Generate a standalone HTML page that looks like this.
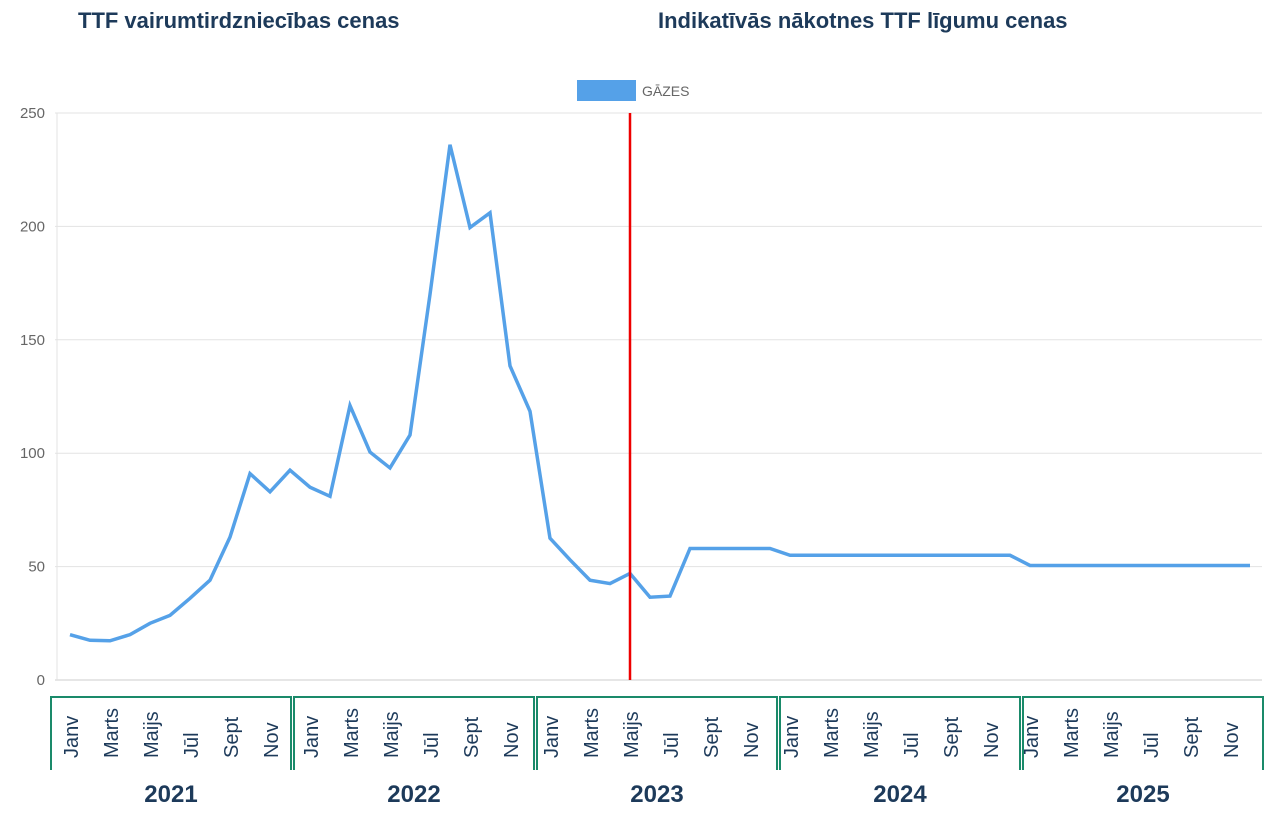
<!DOCTYPE html>
<html><head><meta charset="utf-8"><style>
body{margin:0;background:#fff;font-family:"Liberation Sans",sans-serif;}
.t{position:absolute;top:8px;font-size:22px;font-weight:bold;color:#1d3a5a;}
</style></head><body>
<div style="position:relative;width:1269px;height:828px;overflow:hidden">
<div class="t" style="left:78px">TTF vairumtirdzniecības cenas</div>
<div class="t" style="left:658px">Indikatīvās nākotnes TTF līgumu cenas</div>
<svg id="svg" width="1269" height="828" style="position:absolute;left:0;top:0"></svg>
</div>
<script>
const years=["2021","2022","2023","2024","2025"];
const monthLabels=["Janv","Marts","Maijs","Jūl","Sept","Nov"];
const yTicks=[0,50,100,150,200,250];
const gasValues=[20,17.5,17.3,20,25,28.5,36,44,63,91,83,92.5,
85,81,121,100.5,93.5,108,170,236,199.5,206,138.5,118.5,
62.5,53,44,42.5,47,36.5,37,58,58,58,58,58,
55,55,55,55,55,55,55,55,55,55,55,55,
50.5,50.5,50.5,50.5,50.5,50.5,50.5,50.5,50.5,50.5,50.5,50.5];
const splitIndex=28;
const svg=document.getElementById('svg');
const NS='http://www.w3.org/2000/svg';
const x=i=>70+i*20;
const y=v=>680-v*2.268;
function mk(t,a,p){const e=document.createElementNS(NS,t);for(const k in a)e.setAttribute(k,a[k]);(p||svg).appendChild(e);return e;}
yTicks.forEach(v=>{
 const g=mk('line',{x1:55,x2:1262,y1:y(v),y2:y(v),stroke:v===0?'#ccc':'#e3e3e3','stroke-width':1});
 
 
 const t=mk('text',{x:45,y:y(v)+5,'text-anchor':'end','font-size':15,fill:'#666','font-family':'Liberation Sans'});
 t.textContent=v;
 
 
});
const ax=mk('line',{x1:57,x2:57,y1:113,y2:680,stroke:'#e3e3e3'});


const line=mk('polyline',{points:gasValues.map((v,i)=>x(i)+','+y(v)).join(' '),fill:'none',stroke:'#55a1e8','stroke-width':3.5,'stroke-linejoin':'miter'});


const red=mk('line',{x1:x(splitIndex),x2:x(splitIndex),y1:113,y2:680,stroke:'#e00','stroke-width':2.5});


const lr=mk('rect',{x:577,y:80,width:59,height:21,fill:'#55a1e8'});


const lt=mk('text',{x:642,y:96,'font-size':14,fill:'#666','font-family':'Liberation Sans'});
lt.textContent='GĀZES';


years.forEach((yr,k)=>{
 const x0=51+k*243,x1=x0+240;
 const b=mk('path',{d:`M${x0} 770 V697 H${x1} V770`,fill:'none',stroke:'#1a8a6a','stroke-width':2});
 
 
 monthLabels.forEach((m,j)=>{
  const mx=x(k*12+j*2)+8;
  const t=mk('text',{x:mx,y:758,transform:`rotate(-90 ${mx} 758)`,'font-size':20,fill:'#1d3a5a','font-family':'Liberation Sans'});
  t.textContent=m;
  
  
 });
 const yt=mk('text',{x:(x0+x1)/2,y:802,'text-anchor':'middle','font-size':24,'font-weight':'bold',fill:'#1d3a5a','font-family':'Liberation Sans'});
 yt.textContent=yr;
 
 
});
</script>
</body></html>
